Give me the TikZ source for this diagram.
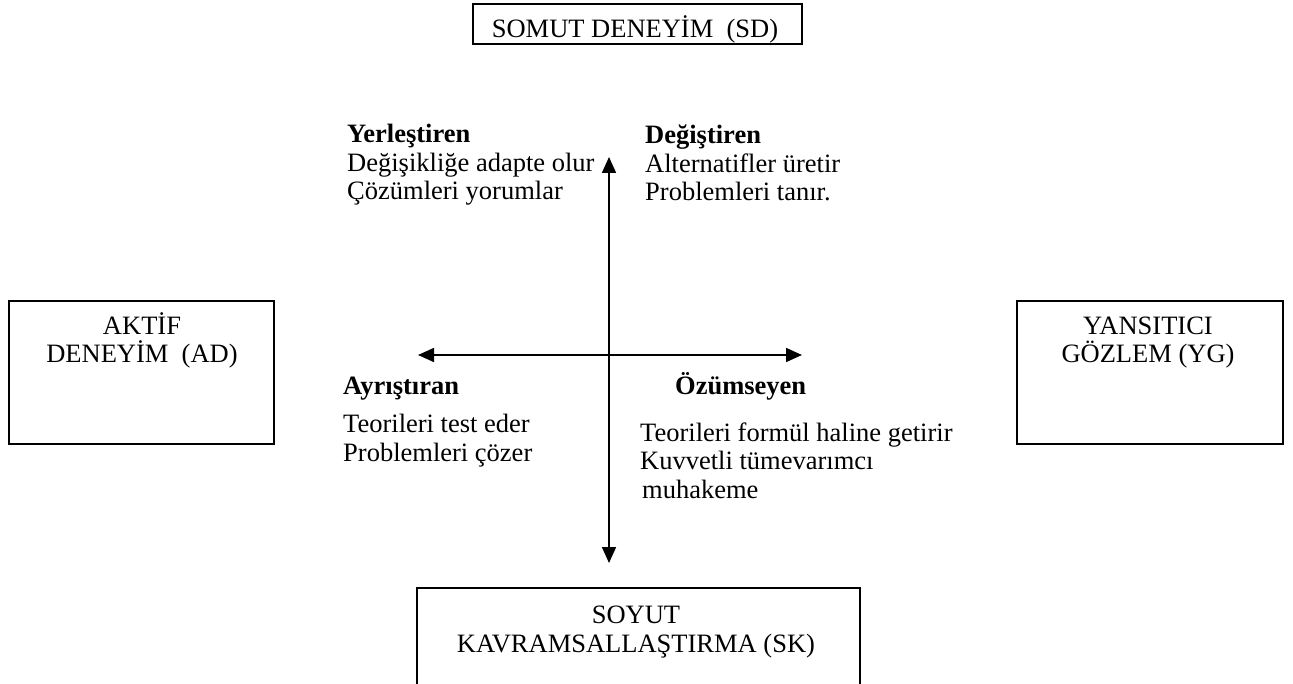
\documentclass[tikz,border=0pt]{standalone}
\usepackage{fontspec}
\setmainfont{Liberation Serif}
\usetikzlibrary{arrows.meta,positioning}

\tikzset{
  box/.style={draw, line width=1.6pt, inner sep=0pt},
  axis/.style={line width=1.6pt, {Triangle[length=16pt,width=14pt]}-{Triangle[length=16pt,width=14pt]}},
  txt/.style={inner sep=0pt, font=\fontsize{26.5}{28.5}\selectfont},
  lbl/.style={txt, anchor=base west, align=left},
  ttl/.style={txt, anchor=base, align=center},
}

\begin{document}
\begin{tikzpicture}[x=1pt,y=-1pt]
  \clip (0,0) rectangle (1293,684);
  % the four boxes
  \node[box, minimum width=329pt, minimum height=40pt] (sd) at (637.5,24) {};
  \node[box, minimum width=265pt, minimum height=143pt] (ad) at (141.5,372.5) {};
  \node[box, minimum width=266pt, minimum height=143pt] (yg) at (1150,372.5) {};
  \node[box, minimum width=443pt, minimum height=143pt] (sk) at (638.5,659.5) {};
  % box texts (placed at the baseline of their last line)
  \node[ttl] (sdt) at (635,38) {SOMUT DENEYİM\ \ (SD)};
  \node[ttl] (adt) at (142,363) {AKTİF\\DENEYİM\ \ (AD)};
  \node[ttl] (ygt) at (1148,363) {YANSITICI\\GÖZLEM (YG)};
  \node[ttl] (skt) at (636,652) {SOYUT\\KAVRAMSALLAŞTIRMA (SK)};
  % axes
  \coordinate (up) at (609,157);
  \coordinate (down) at (609,563);
  \coordinate (left) at (418,355);
  \coordinate (right) at (802,355);
  \draw[axis] (down) -- (up);
  \draw[axis] (left) -- (right);
  % quadrants
  \node[lbl] (yer) at (347,200) {\textbf{Yerleştiren}\\Değişikliğe adapte olur\\Çözümleri yorumlar};
  \node[lbl] (deg) at (645,201) {\textbf{Değiştiren}\\Alternatifler üretir\\Problemleri tanır.};
  \node[lbl] (ayr) at (343,395) {\textbf{Ayrıştıran}};
  \node[lbl] (ayrt) at (343,461) {Teorileri test eder\\Problemleri çözer};
  \node[lbl] (ozu) at (675,395) {\textbf{Özümseyen}};
  \node[lbl] (ozut) at (640,498) {Teorileri formül haline getirir\\Kuvvetli tümevarımcı\\\hspace*{2pt}muhakeme};
\end{tikzpicture}
\end{document}
